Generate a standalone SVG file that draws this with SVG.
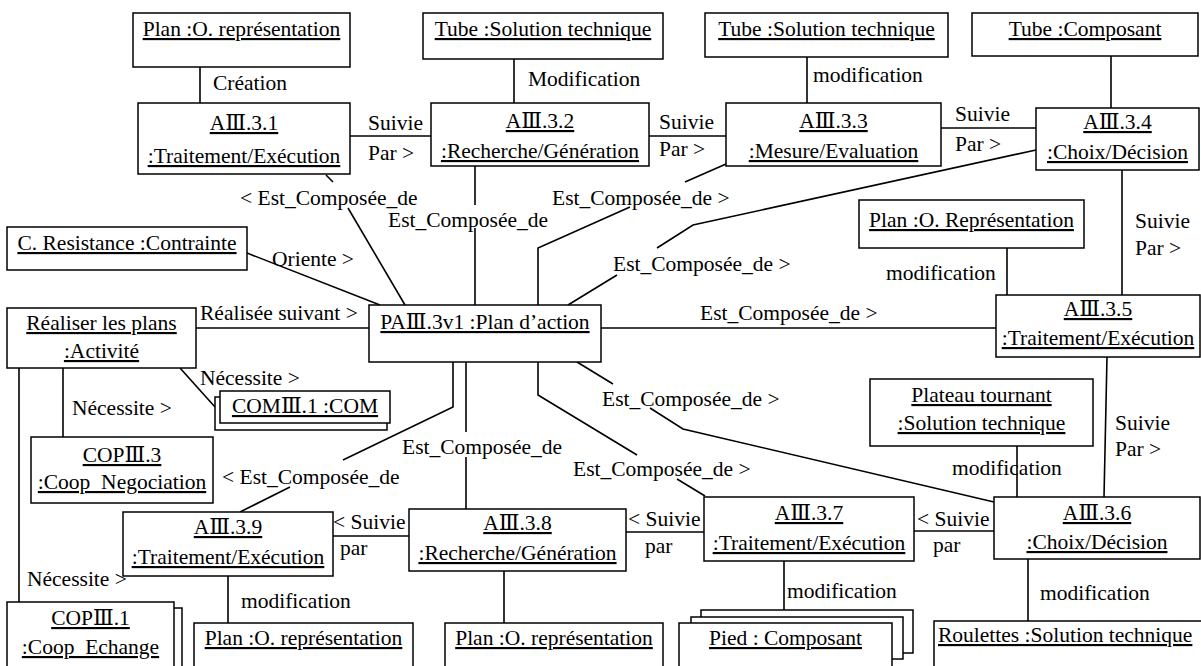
<svg xmlns="http://www.w3.org/2000/svg" width="1201" height="666" viewBox="0 0 1201 666" font-family="'Liberation Serif', 'Times New Roman', 'DejaVu Serif', serif" font-size="21.5">
<style>
.u{text-decoration:underline;text-anchor:middle}
.s{text-decoration:underline}
.n rect{fill:#fff;stroke:#000;stroke-width:1.5}
#connectors line,#connectors polyline{stroke:#000;stroke-width:1.6;fill:none}
</style>
<rect width="1201" height="666" fill="#fff"/>
<g id="connectors">
<line x1="200" y1="67" x2="200" y2="103"/>
<line x1="514" y1="59" x2="514" y2="103"/>
<line x1="807" y1="57" x2="807" y2="103"/>
<line x1="1111" y1="56" x2="1111" y2="108"/>
<line x1="350" y1="136" x2="431" y2="136"/>
<line x1="649" y1="136" x2="726" y2="136"/>
<line x1="941" y1="128" x2="1036" y2="128"/>
<line x1="1122" y1="170" x2="1122" y2="295"/>
<line x1="1007" y1="248" x2="1007" y2="295"/>
<line x1="1107" y1="357" x2="1104" y2="497"/>
<line x1="1017" y1="446" x2="1017" y2="497"/>
<line x1="1028" y1="559" x2="1028" y2="621"/>
<line x1="914" y1="531" x2="994" y2="531"/>
<line x1="784" y1="561" x2="784" y2="610"/>
<line x1="626" y1="532" x2="704" y2="532"/>
<line x1="504" y1="571" x2="504" y2="623"/>
<line x1="333" y1="536" x2="409" y2="536"/>
<line x1="228" y1="576" x2="228" y2="623"/>
<line x1="19" y1="368" x2="19" y2="602"/>
<line x1="63" y1="368" x2="63" y2="437"/>
<line x1="180" y1="368" x2="215" y2="407"/>
<line x1="247" y1="253" x2="380" y2="305"/>
<line x1="196" y1="328" x2="369" y2="328"/>
<line x1="326" y1="175" x2="333" y2="182"/>
<line x1="348" y1="208" x2="405" y2="305"/>
<line x1="475" y1="166" x2="475" y2="205"/>
<line x1="475" y1="228" x2="475" y2="305"/>
<line x1="726" y1="164" x2="685" y2="182"/>
<polyline points="630,207 538,248 538,305"/>
<polyline points="1036,150 693,225 657,248"/>
<line x1="617" y1="275" x2="568" y2="305"/>
<line x1="601" y1="328" x2="996" y2="328"/>
<line x1="577" y1="362" x2="613" y2="384"/>
<polyline points="650,408 683,429 994,502"/>
<polyline points="538,362 538,395 637,455"/>
<line x1="677" y1="479" x2="705" y2="496"/>
<line x1="466" y1="362" x2="466" y2="432"/>
<line x1="466" y1="457" x2="466" y2="509"/>
<polyline points="453,362 453,407 343,460"/>
<line x1="290" y1="487" x2="240" y2="512"/>
<text x="213" y="90">Création</text>
<text x="528" y="86">Modification</text>
<text x="813" y="82">modification</text>
<text x="368" y="130">Suivie</text>
<text x="368" y="160">Par &gt;</text>
<text x="659" y="129">Suivie</text>
<text x="659" y="156">Par &gt;</text>
<text x="955" y="121">Suivie</text>
<text x="955" y="151">Par &gt;</text>
<text x="1135" y="228">Suivie</text>
<text x="1135" y="255">Par &gt;</text>
<text x="886" y="280">modification</text>
<text x="1115" y="430">Suivie</text>
<text x="1115" y="456">Par &gt;</text>
<text x="952" y="475">modification</text>
<text x="917" y="526">&lt; Suivie</text>
<text x="933" y="552">par</text>
<text x="1040" y="600">modification</text>
<text x="787" y="598">modification</text>
<text x="628" y="526">&lt; Suivie</text>
<text x="645" y="553">par</text>
<text x="333" y="529">&lt; Suivie</text>
<text x="340" y="555">par</text>
<text x="241" y="608">modification</text>
<text x="27" y="586">Nécessite &gt;</text>
<text x="72" y="415">Nécessite &gt;</text>
<text x="200" y="385">Nécessite &gt;</text>
<text x="200" y="320">Réalisée suivant &gt;</text>
<text x="272" y="266">Oriente &gt;</text>
<text x="240" y="205">&lt; Est_Composée_de</text>
<text x="388" y="227">Est_Composée_de</text>
<text x="552" y="205">Est_Composée_de &gt;</text>
<text x="613" y="271">Est_Composée_de &gt;</text>
<text x="700" y="320">Est_Composée_de &gt;</text>
<text x="602" y="406">Est_Composée_de &gt;</text>
<text x="573" y="476">Est_Composée_de &gt;</text>
<text x="402" y="454">Est_Composée_de</text>
<text x="222" y="484">&lt; Est_Composée_de</text>
</g>
<g id="plan1" class="n"><rect x="133" y="13" width="217" height="54"/><text x="241.5" y="36" class="u">Plan :O. représentation</text></g>
<g id="tube1" class="n"><rect x="423" y="13" width="240" height="46"/><text x="543" y="36" class="u">Tube :Solution technique</text></g>
<g id="tube2" class="n"><rect x="705" y="13" width="243" height="44"/><text x="826.5" y="36" class="u">Tube :Solution technique</text></g>
<g id="tube3" class="n"><rect x="972" y="13" width="226" height="43"/><text x="1085" y="36" class="u">Tube :Composant</text></g>
<g id="a31" class="n"><rect x="138" y="103" width="212" height="71"/><text x="244" y="130" class="u">AⅢ.3.1</text><text x="244" y="163" class="u">:Traitement/Exécution</text></g>
<g id="a32" class="n"><rect x="431" y="103" width="218" height="63"/><text x="540" y="128" class="u">AⅢ.3.2</text><text x="540" y="158" class="u">:Recherche/Génération</text></g>
<g id="a33" class="n"><rect x="726" y="103" width="215" height="63"/><text x="833.5" y="128" class="u">AⅢ.3.3</text><text x="833.5" y="158" class="u">:Mesure/Evaluation</text></g>
<g id="a34" class="n"><rect x="1036" y="108" width="163" height="62"/><text x="1117.5" y="129" class="u">AⅢ.3.4</text><text x="1117.5" y="159" class="u">:Choix/Décision</text></g>
<g id="plan2" class="n"><rect x="859" y="200" width="225" height="48"/><text x="971.5" y="227" class="u">Plan :O. Représentation</text></g>
<g id="a35" class="n"><rect x="996" y="295" width="204" height="62"/><text x="1098" y="316" class="u">AⅢ.3.5</text><text x="1098" y="345" class="u">:Traitement/Exécution</text></g>
<g id="plateau" class="n"><rect x="870" y="379" width="223" height="67"/><text x="981.5" y="402" class="u">Plateau tournant</text><text x="981.5" y="430" class="u">:Solution technique</text></g>
<g id="a36" class="n"><rect x="994" y="497" width="206" height="62"/><text x="1097" y="520" class="u">AⅢ.3.6</text><text x="1097" y="549" class="u">:Choix/Décision</text></g>
<g id="roulettes" class="n"><rect x="934" y="621" width="270" height="60"/><text x="938" y="642" class="s">Roulettes :Solution technique</text></g>
<g id="a37" class="n"><rect x="704" y="497" width="210" height="64"/><text x="809" y="520" class="u">AⅢ.3.7</text><text x="809" y="550" class="u">:Traitement/Exécution</text></g>
<g id="pied" class="n"><rect x="701" y="610" width="212" height="43"/><rect x="691" y="617" width="212" height="42"/><rect x="679" y="623" width="213" height="60"/><text x="785.5" y="645" class="u">Pied : Composant</text></g>
<g id="a38" class="n"><rect x="409" y="509" width="217" height="62"/><text x="517.5" y="530" class="u">AⅢ.3.8</text><text x="517.5" y="560" class="u">:Recherche/Génération</text></g>
<g id="plan3" class="n"><rect x="445" y="623" width="218" height="60"/><text x="554" y="645" class="u">Plan :O. représentation</text></g>
<g id="a39" class="n"><rect x="123" y="512" width="210" height="64"/><text x="228" y="534" class="u">AⅢ.3.9</text><text x="228" y="564" class="u">:Traitement/Exécution</text></g>
<g id="plan4" class="n"><rect x="194" y="623" width="219" height="60"/><text x="303.5" y="645" class="u">Plan :O. représentation</text></g>
<g id="cop1" class="n"><rect x="15" y="608" width="167" height="70"/><rect x="7" y="602" width="167" height="80"/><text x="90.5" y="625" class="u">COPⅢ.1</text><text x="90.5" y="654" class="u">:Coop_Echange</text></g>
<g id="cop3" class="n"><rect x="31" y="437" width="182" height="66"/><text x="122" y="462" class="u">COPⅢ.3</text><text x="122" y="489" class="u">:Coop_Negociation</text></g>
<g id="realiser" class="n"><rect x="7" y="308" width="189" height="60"/><text x="101.5" y="330" class="u">Réaliser les plans</text><text x="101.5" y="358" class="u">:Activité</text></g>
<g id="com1" class="n"><rect x="215" y="397" width="172" height="33"/><rect x="220" y="391" width="170" height="32"/><text x="305" y="413" class="u">COMⅢ.1 :COM</text></g>
<g id="cres" class="n"><rect x="7" y="227" width="240" height="43"/><text x="127" y="250" class="u">C. Resistance :Contrainte</text></g>
<g id="pa" class="n"><rect x="369" y="305" width="232" height="57"/><text x="485" y="329" class="u">PAⅢ.3v1 :Plan d’action</text></g>
</svg>
